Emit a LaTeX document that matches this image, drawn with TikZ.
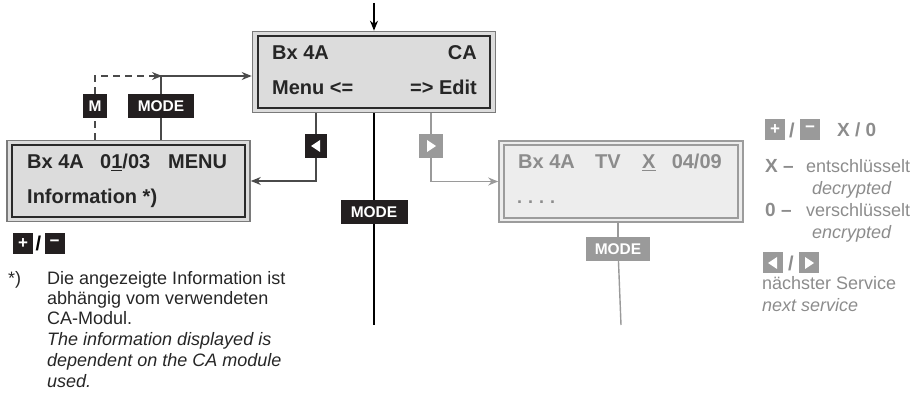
\documentclass[tikz,border=0pt]{standalone}
\usepackage{fontspec}
\setmainfont{Liberation Sans}
\usetikzlibrary{arrows.meta}

\definecolor{lcdfill}{HTML}{DCDCDC}
\definecolor{lcdframe}{HTML}{7A7A7A}
\definecolor{lcdinner}{HTML}{2A2A2A}
\definecolor{dimfill}{HTML}{EDEDED}
\definecolor{dimframe}{HTML}{9C9C9C}
\definecolor{dimtext}{HTML}{8C8C8C}
\definecolor{dimkey}{HTML}{9A9A9A}
\definecolor{wire}{HTML}{4A4A4A}
\definecolor{keyblack}{HTML}{231F20}

\tikzset{
  dispfont/.style={font=\fontsize{20}{24}\selectfont\bfseries},
  disptext/.style={dispfont, inner sep=0pt, text=black!85},
  dimdisp/.style={dispfont, inner sep=0pt, text=dimtext},
  lcdbox/.style={draw=lcdframe, line width=1.6pt, fill=lcdfill, inner sep=0pt,
                 minimum width=243pt, minimum height=81pt},
  lcdframein/.style={draw=lcdinner, line width=2pt},
  dimbox/.style={draw=dimframe, line width=1.6pt, fill=dimfill, inner sep=0pt,
                 minimum width=244pt, minimum height=81pt},
  dimframein/.style={draw=dimframe, line width=2pt},
  keybox/.style={fill=keyblack, text=white, inner sep=0pt, minimum height=24pt,
                 font=\fontsize{15.5}{18}\selectfont\bfseries},
  dimkeybox/.style={keybox, fill=dimkey},
  smallkey/.style={fill=keyblack, text=white, inner sep=0pt, minimum width=20pt,
                   minimum height=21pt, font=\fontsize{17}{20}\selectfont\bfseries},
  dimsmallkey/.style={smallkey, fill=dimkey},
  conn/.style={draw=wire, line width=1.4pt},
  dimconn/.style={draw=dimkey, line width=1.4pt},
  tip/.style={-{Stealth[length=10pt,width=8pt]}},
  note/.style={inner sep=0pt, font=\fontsize{18}{21}\selectfont, text=black!85},
  dimnote/.style={inner sep=0pt, font=\fontsize{18}{21}\selectfont, text=dimtext},
  dimbold/.style={inner sep=0pt, font=\fontsize{19}{22}\selectfont\bfseries, text=dimtext},
}

\begin{document}
\begin{tikzpicture}[x=1pt, y=-1pt]
\useasboundingbox (0,0) rectangle (924,406);

% ---- displays ----
\node[lcdbox] (cbox) at (374,72) {};
\draw[lcdframein] ([xshift=6pt,yshift=-5pt]cbox.north west) rectangle ([xshift=-6pt,yshift=5pt]cbox.south east);
\node[disptext, anchor=base west] (c1) at (272,60) {Bx 4A};
\node[disptext, anchor=base east] (c2) at (477,60) {CA};
\node[disptext, anchor=base west] (c3) at (272,95) {Menu <=};
\node[disptext, anchor=base east] (c4) at (477,95) {=> Edit};

\node[lcdbox] (lbox) at (128.5,181) {};
\draw[lcdframein] ([xshift=6pt,yshift=-5pt]lbox.north west) rectangle ([xshift=-6pt,yshift=5pt]lbox.south east);
\node[disptext, anchor=base west] (l1) at (27,169) {Bx 4A};
\node[disptext, anchor=base west] (l2) at (100,169) {0\underline{1}/03};
\node[disptext, anchor=base west] (l3) at (168,169) {MENU};
\node[disptext, anchor=base west] (l4) at (27,204) {Information *)};

\node[dimbox] (tvbox) at (621,181.5) {};
\draw[dimframein] ([xshift=6pt,yshift=-5pt]tvbox.north west) rectangle ([xshift=-6pt,yshift=5pt]tvbox.south east);
\node[dimdisp, anchor=base west] (t1) at (518,169) {Bx 4A};
\node[dimdisp, anchor=base west] (t2) at (595,169) {TV};
\node[dimdisp, anchor=base west] (t3) at (642,169) {\underline{X}};
\node[dimdisp, anchor=base east] (t4) at (722,169) {04/09};
\node[dimdisp, anchor=base west, font=\fontsize{18}{20}\selectfont\bfseries] (t5) at (517,204) {.\hspace{6pt}.\hspace{6pt}.\hspace{6pt}.};

% ---- key labels ----
\node[keybox, minimum width=67pt] (modec) at (374,212) {MODE};
\node[keybox, minimum width=66pt] (model) at (161,106) {MODE};
\node[keybox, minimum width=24pt] (mkey) at (95,106) {M};
\node[keybox, minimum width=22pt] (lkey) at (316,146) {};
\fill[white] ([xshift=-5pt]lkey.center) -- ([xshift=4pt,yshift=6pt]lkey.center) -- ([xshift=4pt,yshift=-6pt]lkey.center) -- cycle;
\node[dimkeybox, minimum width=24pt] (rkey) at (431,146) {};
\fill[white] ([xshift=5pt]rkey.center) -- ([xshift=-4pt,yshift=6pt]rkey.center) -- ([xshift=-4pt,yshift=-6pt]rkey.center) -- cycle;
\node[dimkeybox, minimum width=64pt] (moder) at (618,249) {MODE};

% ---- connectors ----
\coordinate (topin) at (374,3);
\coordinate (cend) at (374,325);
\coordinate (join) at (162,76);
\coordinate (tvend) at (621,325);

\draw[draw=black, line width=1.6pt, tip] (topin) -- (cbox.north);
\draw[draw=black, line width=2pt] (cbox.south) -- (modec);
\draw[draw=black, line width=2pt] (modec) -- (cend);

\draw[conn] (cbox.south -| lkey) -- (lkey);
\draw[conn, tip] (lkey) |- (lbox.east);

\draw[dimconn] (cbox.south -| rkey) -- (rkey);
\draw[dimconn, tip] (rkey) |- (tvbox.west);

\draw[conn] (lbox.north -| model) -- (model);
\draw[conn, tip] (model) |- (join -| cbox.west);

\draw[conn, dash pattern=on 7pt off 5pt] (lbox.north -| mkey) -- (mkey);
\draw[conn, dash pattern=on 7pt off 5pt, tip] (mkey) |- (join);

\draw[dimconn] (tvbox.south -| moder) -- (moder);
\draw[dimconn] (moder) -- (tvend);

% ---- +/- keys under the menu display ----
\node[smallkey] (plusl) at (23,243.5) {+};
\node[inner sep=0pt, font=\fontsize{20}{24}\selectfont\bfseries] (slashl) at (38.5,243.5) {/};
\node[smallkey] (minusl) at (54.5,243.5) {\raisebox{1pt}{−}};

% ---- footnote ----
\node[note, anchor=base west] (fstar) at (8,284) {*)};
\node[note, anchor=base west] (f1) at (47,284) {Die angezeigte Information ist};
\node[note, anchor=base west] (f2) at (47,304) {abhängig vom verwendeten};
\node[note, anchor=base west] (f3) at (47,324) {CA-Modul.};
\node[note, anchor=base west, font=\fontsize{18}{21}\selectfont\itshape] (f4) at (47,345) {The information displayed is};
\node[note, anchor=base west, font=\fontsize{18}{21}\selectfont\itshape] (f5) at (47,366) {dependent on the CA module};
\node[note, anchor=base west, font=\fontsize{18}{21}\selectfont\itshape] (f6) at (47,387) {used.};

% ---- legend ----
\node[dimsmallkey] (plusr) at (775,130) {+};
\node[dimbold, font=\fontsize{20}{24}\selectfont\bfseries] (slashr) at (792,130) {/};
\node[dimsmallkey] (minusr) at (810,130) {\raisebox{1pt}{−}};
\node[dimbold, anchor=base west] (x0) at (837,137) {X / 0};

\node[dimbold, anchor=base west] (xk) at (765,173) {X –};
\node[dimnote, anchor=base west] (xt) at (806,173) {entschlüsselt};
\node[dimnote, anchor=base west, font=\fontsize{18}{21}\selectfont\itshape] (xe) at (812,195) {decrypted};
\node[dimbold, anchor=base west] (ok) at (765,217) {0 –};
\node[dimnote, anchor=base west] (ot) at (806,217) {verschlüsselt};
\node[dimnote, anchor=base west, font=\fontsize{18}{21}\selectfont\itshape] (oe) at (812,239) {encrypted};

\node[dimsmallkey] (prevr) at (773,263) {};
\fill[white] ([xshift=-5pt]prevr.center) -- ([xshift=4pt,yshift=6pt]prevr.center) -- ([xshift=4pt,yshift=-6pt]prevr.center) -- cycle;
\node[dimbold, font=\fontsize{20}{24}\selectfont\bfseries] (slashs) at (791,263) {/};
\node[dimsmallkey] (nextr) at (809,263) {};
\fill[white] ([xshift=5pt]nextr.center) -- ([xshift=-4pt,yshift=6pt]nextr.center) -- ([xshift=-4pt,yshift=-6pt]nextr.center) -- cycle;
\node[dimnote, anchor=base west] (ns) at (762,290) {nächster Service};
\node[dimnote, anchor=base west, font=\fontsize{18}{21}\selectfont\itshape] (nse) at (762,311) {next service};
\end{tikzpicture}
\end{document}
